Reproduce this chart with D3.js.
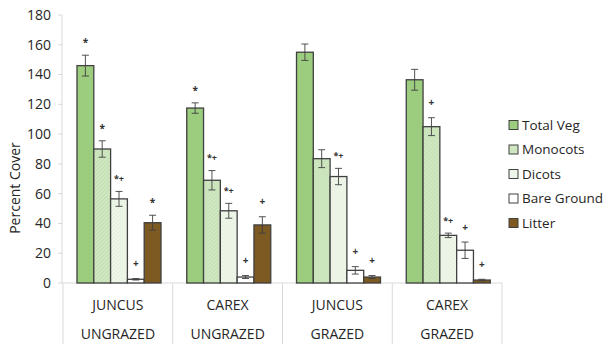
<!DOCTYPE html>
<html>
<head>
<meta charset="utf-8">
<script src="https://cdn.jsdelivr.net/npm/d3@7"></script>
<style>
  body { margin: 0; background: #fff; }
  svg { font-family: "Open Sans", sans-serif; }
</style>
</head>
<body>
<div id="chart"></div>
<script>
// data
var sites = ["JUNCUS", "CAREX", "JUNCUS", "CAREX"];
var treatments = ["UNGRAZED", "UNGRAZED", "GRAZED", "GRAZED"];
var seriesNames = ["Total Veg", "Monocots", "Dicots", "Bare Ground", "Litter"];
var totalVeg = [146, 117.5, 155, 136.5];
var monocots = [90, 69, 83.5, 105];
var dicots = [56.5, 48.5, 71.5, 32];
var bareGround = [2.5, 4, 8.5, 22];
var litter = [40.5, 39, 4, 2];
var totalVegErr = [7, 3.5, 5.5, 7];
var monocotsErr = [5.5, 6.5, 6, 6];
var dicotsErr = [5, 5, 5.5, 1.5];
var bareGroundErr = [0.5, 1, 2.5, 5.5];
var litterErr = [5, 5.5, 1, 0.5];
var marks = [
  ["*", "*", "*+", "+", "*"],
  ["*", "*+", "*+", "+", "+"],
  ["", "", "*+", "+", "+"],
  ["", "+", "*+", "+", "+"]
];
var yTicks = [0, 20, 40, 60, 80, 100, 120, 140, 160, 180];

var values = [totalVeg, monocots, dicots, bareGround, litter];
var errs = [totalVegErr, monocotsErr, dicotsErr, bareGroundErr, litterErr];
var fills = ["#9ccc7e", "#cfe7c1", "#eef6e9", "#ffffff", "#7d5a22"];

var width = 603, height = 344;
var svg = d3.select("#chart").append("svg")
    .attr("width", width)
    .attr("height", height);

var defs = svg.append("defs");
var pat = defs.append("pattern")
    .attr("id", "mono")
    .attr("width", 4).attr("height", 4)
    .attr("patternUnits", "userSpaceOnUse");
pat.append("rect").attr("width", 4).attr("height", 4).attr("fill", fills[1]);
pat.append("path").attr("d", "M0,4 L4,0").attr("stroke", "#bfdcad").attr("stroke-width", 0.8);
var pat2 = defs.append("pattern")
    .attr("id", "dic")
    .attr("width", 4).attr("height", 4)
    .attr("patternUnits", "userSpaceOnUse");
pat2.append("rect").attr("width", 4).attr("height", 4).attr("fill", fills[2]);
pat2.append("path").attr("d", "M0,4 L4,0").attr("stroke", "#e2eed9").attr("stroke-width", 0.8);

var x0 = d3.scaleBand().domain(d3.range(sites.length)).range([63, 502]).paddingInner(0).paddingOuter(0);
var x1 = d3.scaleBand().domain(d3.range(seriesNames.length)).range([14, 98]).padding(0);
var y = d3.scaleLinear().domain([0, 180]).range([283, 15]);

// axes
svg.append("line").attr("x1", 62).attr("x2", 62).attr("y1", y(180)).attr("y2", y(0))
    .attr("stroke", "#d9d9d9");
svg.append("line").attr("x1", 62).attr("x2", 502).attr("y1", y(0)).attr("y2", y(0))
    .attr("stroke", "#d9d9d9");
svg.selectAll(".ytick").data(yTicks).enter().append("line")
    .attr("x1", 58).attr("x2", 62)
    .attr("y1", function(d) { return y(d); })
    .attr("y2", function(d) { return y(d); })
    .attr("stroke", "#d9d9d9");
svg.selectAll(".ylab").data(yTicks).enter().append("text")
    .attr("x", 51)
    .attr("y", function(d) { return y(d); })
    .attr("dy", "0.35em")
    .attr("text-anchor", "end")
    .attr("font-size", 14)
    .attr("fill", "#262626")
    .text(function(d) { return d; });

svg.append("text")
    .attr("transform", "translate(15,188) rotate(-90)")
    .attr("dy", "0.35em")
    .attr("text-anchor", "middle")
    .attr("font-size", 14)
    .attr("fill", "#262626")
    .text("Percent Cover");

// category separators
var seps = d3.range(sites.length + 1);
svg.selectAll(".sep").data(seps).enter().append("line")
    .attr("x1", function(d) { return d < sites.length ? x0(d) : x0(d - 1) + x0.bandwidth(); })
    .attr("x2", function(d) { return d < sites.length ? x0(d) : x0(d - 1) + x0.bandwidth(); })
    .attr("y1", y(0)).attr("y2", 344)
    .attr("stroke", "#d9d9d9");

var groups = svg.selectAll(".grp").data(sites).enter().append("g")
    .attr("transform", function(d, i) { return "translate(" + x0(i) + ",0)"; });

groups.append("text")
    .attr("x", x0.bandwidth() / 2).attr("y", 305)
    .attr("dy", "0.35em")
    .attr("text-anchor", "middle")
    .attr("font-size", 14)
    .attr("fill", "#262626")
    .text(function(d) { return d; });
groups.append("text")
    .attr("x", x0.bandwidth() / 2).attr("y", 334)
    .attr("dy", "0.35em")
    .attr("text-anchor", "middle")
    .attr("font-size", 14)
    .attr("fill", "#262626")
    .text(function(d, i) { return treatments[i]; });

groups.each(function(site, gi) {
  var g = d3.select(this);
  seriesNames.forEach(function(name, si) {
    var v = values[si][gi], e = errs[si][gi];
    var bx = x1(si), bw = x1.bandwidth();
    g.append("rect")
        .attr("x", bx).attr("y", y(v))
        .attr("width", bw).attr("height", y(0) - y(v))
        .attr("fill", si == 1 ? "url(#mono)" : si == 2 ? "url(#dic)" : fills[si])
        .attr("stroke", "#404040").attr("stroke-width", 1.3);
    var cx = bx + bw / 2;
    g.append("line").attr("x1", cx).attr("x2", cx)
        .attr("y1", y(v + e)).attr("y2", y(Math.max(0, v - e)))
        .attr("stroke", "#404040").attr("stroke-width", 0.9);
    [v + e, Math.max(0, v - e)].forEach(function(t) {
      g.append("line").attr("x1", cx - 3.5).attr("x2", cx + 3.5)
          .attr("y1", y(t)).attr("y2", y(t))
          .attr("stroke", "#404040").attr("stroke-width", 0.9);
    });
    var m = marks[gi][si];
    if (m) {
      g.append("text")
          .attr("x", cx).attr("y", y(v + e) - 15)
          .attr("dy", m == "+" ? "0.35em" : "0.6em")
          .attr("text-anchor", "middle")
          .attr("font-size", m == "*+" ? 9 : 10)
          .attr("font-weight", "bold")
          .attr("fill", "#333")
          .text(m);
    }
  });
});

// legend
var legend = svg.selectAll(".leg").data(seriesNames).enter().append("g")
    .attr("transform", function(d, i) { return "translate(509," + (125 + i * 24.5) + ")"; });
legend.append("rect")
    .attr("x", 0).attr("y", -4.5).attr("width", 9).attr("height", 9)
    .attr("fill", function(d, i) { return fills[i]; })
    .attr("stroke", "#404040").attr("stroke-width", 1);
legend.append("text")
    .attr("x", 13).attr("y", 0).attr("dy", "0.35em")
    .attr("font-size", 13.5)
    .attr("fill", "#262626")
    .text(function(d) { return d; });
</script>
</body>
</html>
